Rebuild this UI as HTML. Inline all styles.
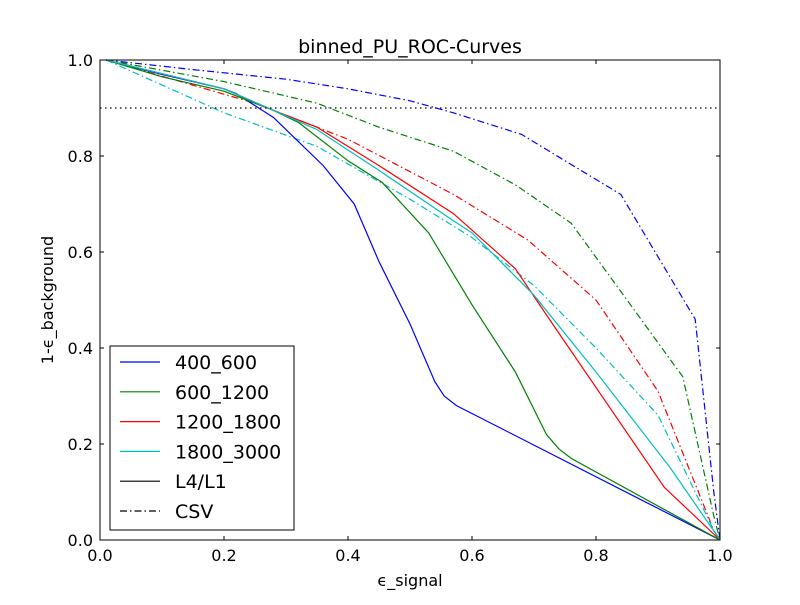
<!DOCTYPE html>
<html><head><meta charset="utf-8"><style>
body{margin:0;background:#fff;}
svg text{font-family:"DejaVu Sans","Liberation Sans",sans-serif;}
</style></head><body>
<svg id="chart" width="800" height="600" xmlns="http://www.w3.org/2000/svg">
<rect width="800" height="600" fill="#fff"/>
<g id="lines"></g>
<line x1="100" x2="720" y1="108" y2="108" stroke="#000" stroke-dasharray="1.5,3.5" stroke-width="1.2"/>
<rect x="100" y="60" width="620" height="480" fill="none" stroke="#000" stroke-width="1"/>
<g id="ticks"></g>
<text x="410" y="53" font-size="19" text-anchor="middle">binned_PU_ROC-Curves</text>
<text x="410" y="586" font-size="16" text-anchor="middle">ϵ_signal</text>
<text transform="translate(53,300) rotate(-90)" font-size="16" text-anchor="middle">1-ϵ_background</text>
<g>
<rect x="110" y="346" width="184" height="184" fill="#fff" stroke="#000"/>
<g id="legend-items"></g>
</g>
</svg>
<script>
const xTicks=[0,0.2,0.4,0.6,0.8,1.0];
const yTicks=[0,0.2,0.4,0.6,0.8,1.0];
const seriesNames=["400_600","600_1200","1200_1800","1800_3000"];
const seriesColors=["#0000ff","#008000","#ff0000","#00bfbf"];
const l4Blue=[[0.01,1],[0.1,0.97],[0.2,0.94],[0.22,0.93],[0.28,0.88],[0.36,0.78],[0.41,0.70],[0.45,0.58],[0.5,0.45],[0.54,0.33],[0.555,0.30],[0.575,0.28],[1,0]];
const l4Green=[[0.01,1],[0.1,0.965],[0.2,0.935],[0.28,0.895],[0.32,0.87],[0.4,0.79],[0.455,0.745],[0.53,0.64],[0.6,0.49],[0.67,0.35],[0.72,0.22],[0.74,0.19],[0.76,0.17],[1,0]];
const l4Red=[[0.01,1],[0.2,0.94],[0.28,0.895],[0.35,0.86],[0.45,0.78],[0.57,0.68],[0.67,0.565],[0.73,0.45],[0.91,0.11],[1,0]];
const l4Cyan=[[0.01,1],[0.2,0.94],[0.28,0.895],[0.35,0.855],[0.45,0.77],[0.57,0.665],[0.6,0.64],[0.7,0.51],[0.8,0.35],[0.92,0.15],[1,0]];
const csvBlue=[[0.01,1],[0.15,0.98],[0.3,0.96],[0.4,0.94],[0.5,0.915],[0.57,0.89],[0.68,0.845],[0.75,0.79],[0.84,0.72],[0.9,0.59],[0.96,0.46],[0.99,0.1],[1,0]];
const csvGreen=[[0.01,1],[0.2,0.955],[0.35,0.91],[0.45,0.86],[0.57,0.81],[0.67,0.74],[0.76,0.66],[0.85,0.5],[0.94,0.34],[0.99,0.05],[1,0]];
const csvRed=[[0.01,1],[0.25,0.91],[0.4,0.835],[0.57,0.72],[0.69,0.625],[0.8,0.5],[0.9,0.31],[0.99,0.02],[1,0]];
const csvCyan=[[0.01,1],[0.2,0.89],[0.35,0.82],[0.5,0.71],[0.6,0.63],[0.7,0.53],[0.8,0.4],[0.9,0.26],[0.99,0.02],[1,0]];
const NS="http://www.w3.org/2000/svg";
const X=v=>100+v*620, Y=v=>540-v*480;
function mk(t,a,p){const e=document.createElementNS(NS,t);for(const k in a)e.setAttribute(k,a[k]);p.appendChild(e);return e;}
const lg=document.getElementById('lines');
const solid=[l4Blue,l4Green,l4Red,l4Cyan], dash=[csvBlue,csvGreen,csvRed,csvCyan];
function draw(data,i,dashed){
 const p=mk('polyline',{points:data.map(d=>X(d[0])+','+Y(d[1])).join(' '),fill:'none',stroke:seriesColors[i],'stroke-width':1.2},lg);
 if(dashed)p.setAttribute('stroke-dasharray','7,3,1.5,3');
 
 
}
dash.forEach((d,i)=>draw(d,i,true));
solid.forEach((d,i)=>draw(d,i,false));
const tg=document.getElementById('ticks');
xTicks.forEach(v=>{
 mk('line',{x1:X(v),x2:X(v),y1:540,y2:536,stroke:'#000'},tg);
 mk('line',{x1:X(v),x2:X(v),y1:60,y2:64,stroke:'#000'},tg);
 const t=mk('text',{x:X(v),y:561,'font-size':16,'text-anchor':'middle'},tg);t.textContent=v.toFixed(1);
 
 
});
yTicks.forEach(v=>{
 mk('line',{x1:100,x2:104,y1:Y(v),y2:Y(v),stroke:'#000'},tg);
 mk('line',{x1:720,x2:716,y1:Y(v),y2:Y(v),stroke:'#000'},tg);
 const t=mk('text',{x:93,y:Y(v)+6,'font-size':16,'text-anchor':'end'},tg);t.textContent=v.toFixed(1);
 
 
});
const li=document.getElementById('legend-items');
const labels=seriesNames.concat(["L4/L1","CSV"]);
const cols=seriesColors.concat(["#000","#000"]);
labels.forEach((l,i)=>{
 const y=362+i*29.8;
 const g=mk('g',{},li);
 
 
 const ln=mk('line',{x1:120,x2:160,y1:y,y2:y,stroke:cols[i],'stroke-width':1.2},g);
 if(i==5)ln.setAttribute('stroke-dasharray','7,3,1.5,3');
 const t=mk('text',{x:175,y:y+7,'font-size':19},g);t.textContent=l;
});
</script>
</body></html>
